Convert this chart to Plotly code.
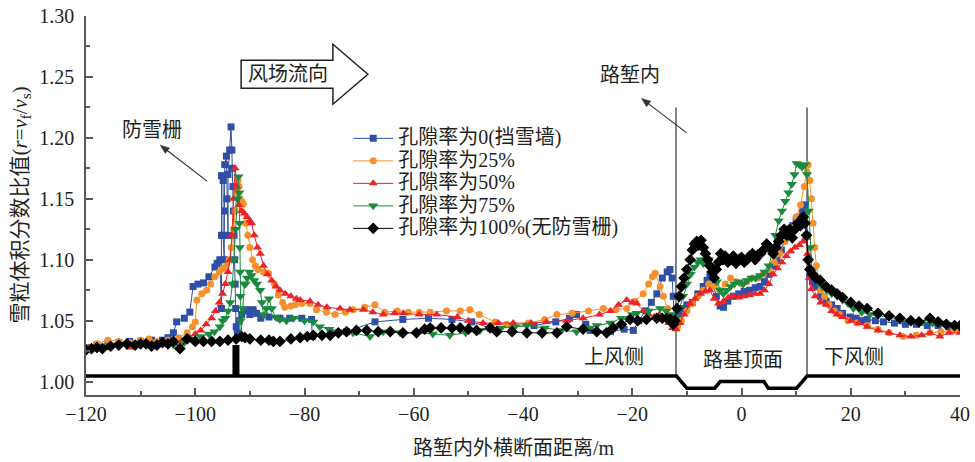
import plotly.graph_objects as go

# ---- data: snow volume fraction ratio along the cutting cross-section ----
# (distance / m, ratio r = v_f / v_s)
porosity_0 = [
    (-120, 1.028), (-118, 1.030), (-116, 1.031), (-114, 1.032), (-112, 1.033), (-110, 1.033),
    (-108, 1.034), (-106, 1.034), (-105, 1.036), (-104, 1.040), (-103.4, 1.049), (-102, 1.052),
    (-101, 1.057), (-100.4, 1.078), (-99.5, 1.080), (-98.5, 1.081), (-97.5, 1.086), (-96.4, 1.094),
    (-96.0, 1.097), (-95.5, 1.100), (-95.2, 1.060), (-95.2, 1.120), (-95.2, 1.169), (-94.9, 1.165),
    (-94.9, 1.120), (-94.7, 1.100), (-94.6, 1.140), (-94.6, 1.178), (-94.3, 1.185), (-94.2, 1.150),
    (-94.0, 1.120), (-94.0, 1.170), (-93.7, 1.190), (-93.45, 1.209), (-93.3, 1.190),
    (-93.2, 1.175), (-93.1, 1.160), (-93.0, 1.140), (-92.9, 1.120), (-92.8, 1.100), (-92.7, 1.080),
    (-92.6, 1.060), (-92.5, 1.045), (-92.3, 1.040), (-92.0, 1.050), (-91.5, 1.055), (-91.0, 1.058),
    (-90.6, 1.059), (-90.0, 1.055), (-89.4, 1.059), (-88.75, 1.056), (-88.0, 1.052), (-86.5, 1.053),
    (-84.5, 1.052), (-82.7, 1.052), (-80.5, 1.052), (-78.7, 1.051), (-78.6, 1.037), (-75.3, 1.040),
    (-72.3, 1.041), (-67.1, 1.049), (-62, 1.051), (-57.3, 1.052), (-53, 1.051), (-49.4, 1.049),
    (-46.0, 1.044), (-42, 1.045), (-38, 1.046), (-34, 1.049), (-31.5, 1.052), (-30.2, 1.055),
    (-28.5, 1.047), (-27.7, 1.042), (-24, 1.041), (-21.5, 1.043), (-19.8, 1.042), (-18.8, 1.050),
    (-17.5, 1.058), (-16.5, 1.065), (-15.5, 1.072), (-14.5, 1.085), (-13.6, 1.090), (-13.1, 1.092),
    (-12.7, 1.085), (-12.5, 1.070), (-12.3, 1.053), (-12.0, 1.050), (-11.5, 1.055), (-11, 1.060),
    (-10, 1.063), (-9, 1.065), (-8, 1.072), (-7, 1.078), (-6.3, 1.083), (-5.8, 1.086), (-5.3, 1.080),
    (-4.6, 1.070), (-3.9, 1.062), (-3.3, 1.061), (-2.5, 1.066), (-1.5, 1.070), (-0.5, 1.072),
    (0.5, 1.074), (1.5, 1.075), (2.5, 1.077), (3.4, 1.078), (4.2, 1.082), (5, 1.088), (5.8, 1.095),
    (6.5, 1.100), (7.3, 1.108), (8, 1.118), (8.7, 1.125), (9.4, 1.128), (10, 1.132), (10.7, 1.135),
    (11.2, 1.140), (11.6, 1.145), (12.0, 1.120), (12.3, 1.100), (12.5, 1.086), (13, 1.082),
    (13.5, 1.078), (14.5, 1.070), (15.5, 1.066), (16.5, 1.063), (17.5, 1.060), (18.5, 1.056),
    (19.9, 1.053), (21, 1.052), (22, 1.050), (23, 1.051), (24.5, 1.050), (26, 1.049), (28, 1.048),
    (30, 1.047), (32, 1.047), (34, 1.046), (36, 1.046), (38, 1.045), (40, 1.045),
]

porosity_25 = [
    (-120, 1.028), (-118, 1.031), (-116, 1.034), (-114, 1.033), (-112, 1.032), (-111.3, 1.029),
    (-110, 1.034), (-108.5, 1.035), (-107, 1.033), (-105, 1.034), (-103, 1.036), (-101.5, 1.040),
    (-100.5, 1.045), (-100, 1.049), (-99.7, 1.067), (-98.8, 1.072), (-97.9, 1.075), (-97.2, 1.080),
    (-96.4, 1.086), (-95.6, 1.090), (-94.9, 1.093), (-94.3, 1.095), (-93.8, 1.100), (-93.4, 1.110),
    (-93.0, 1.125), (-92.7, 1.140), (-92.4, 1.155), (-92.2, 1.165), (-92.0, 1.160), (-91.8, 1.150),
    (-91.5, 1.148), (-91.2, 1.146), (-90.8, 1.130), (-90.4, 1.120), (-90.0, 1.110), (-89.5, 1.100),
    (-89.0, 1.095), (-88.5, 1.092), (-87.5, 1.090), (-86.6, 1.089), (-85.5, 1.080), (-84.8, 1.071),
    (-84, 1.065), (-83.6, 1.061), (-82.5, 1.062), (-81.7, 1.063), (-80.5, 1.064), (-79, 1.064),
    (-77.8, 1.059), (-76, 1.057), (-74.4, 1.055), (-72.5, 1.057), (-71.1, 1.059), (-69, 1.061),
    (-67.1, 1.063), (-65.3, 1.057), (-63, 1.058), (-61, 1.057), (-59, 1.057), (-57, 1.057),
    (-54, 1.058), (-51.5, 1.058), (-49.7, 1.059), (-48, 1.055), (-45.1, 1.049), (-43, 1.047),
    (-41.8, 1.046), (-39, 1.048), (-36, 1.051), (-33.8, 1.055), (-31, 1.056), (-28, 1.058),
    (-25.3, 1.060), (-23, 1.059), (-21, 1.060), (-19.5, 1.066), (-18, 1.072), (-17, 1.080),
    (-16.3, 1.086), (-15.8, 1.089), (-14.9, 1.078), (-14.3, 1.070), (-13.5, 1.060), (-12.8, 1.050),
    (-12.2, 1.047), (-11.7, 1.045), (-11, 1.050), (-10, 1.058), (-9, 1.064), (-8, 1.070),
    (-7, 1.075), (-6, 1.080), (-5, 1.078), (-4, 1.075), (-3, 1.080), (-2, 1.085), (-1, 1.082),
    (0, 1.080), (1, 1.082), (2, 1.085), (3, 1.085), (4, 1.088), (5, 1.092), (6, 1.098), (7, 1.105),
    (8, 1.115), (9, 1.125), (10, 1.135), (10.8, 1.145), (11.5, 1.160), (12.0, 1.172), (12.2, 1.178),
    (12.5, 1.165), (12.8, 1.150), (13.1, 1.130), (13.4, 1.110), (13.7, 1.095), (14.1, 1.085),
    (14.5, 1.075), (15.2, 1.070), (16, 1.063), (17, 1.058), (18, 1.055), (19.5, 1.050),
    (21.1, 1.048), (23, 1.046), (25, 1.043), (27, 1.040), (29.6, 1.037), (32, 1.038),
    (34.5, 1.040), (36.5, 1.041), (38.8, 1.042), (40, 1.042),
]

porosity_50 = [
    (-120, 1.027), (-118, 1.028), (-116, 1.029), (-114, 1.030), (-112, 1.028), (-110, 1.030),
    (-108, 1.031), (-106, 1.030), (-104, 1.032), (-102.5, 1.033), (-101, 1.036), (-100, 1.039),
    (-99, 1.042), (-98, 1.047), (-97, 1.052), (-96.3, 1.058), (-95.6, 1.065), (-95, 1.072),
    (-94.5, 1.080), (-94, 1.090), (-93.6, 1.100), (-93.3, 1.120), (-93.0, 1.150), (-92.7, 1.175),
    (-92.4, 1.160), (-92.0, 1.145), (-91.5, 1.140), (-91, 1.138), (-90.5, 1.135), (-90, 1.132),
    (-89.7, 1.130), (-89.2, 1.120), (-88.6, 1.110), (-88.1, 1.105), (-87.5, 1.095), (-86.8, 1.088),
    (-86, 1.083), (-85.2, 1.078), (-84.5, 1.075), (-83.5, 1.072), (-82.5, 1.070), (-81.5, 1.068),
    (-80.8, 1.067), (-79, 1.066), (-77.5, 1.063), (-75.9, 1.061), (-73.5, 1.060), (-71.7, 1.059),
    (-69.2, 1.059), (-67.5, 1.057), (-65.6, 1.055), (-63.5, 1.056), (-61.9, 1.056), (-59, 1.055),
    (-55.8, 1.055), (-52, 1.053), (-50, 1.050), (-47.3, 1.048), (-44.5, 1.048), (-41.8, 1.048),
    (-38.5, 1.048), (-35.7, 1.049), (-32, 1.050), (-29, 1.052), (-26, 1.055), (-24, 1.058),
    (-22.5, 1.063), (-21.0, 1.067), (-20, 1.065), (-19.2, 1.064), (-18, 1.058), (-17, 1.055),
    (-16, 1.053), (-15, 1.055), (-14, 1.052), (-13.3, 1.048), (-12.6, 1.044), (-12, 1.043),
    (-11.3, 1.048), (-10.5, 1.055), (-9.4, 1.064), (-8.5, 1.068), (-7.5, 1.072), (-6.6, 1.074),
    (-5.8, 1.075), (-5, 1.068), (-4.2, 1.064), (-3.3, 1.066), (-2.4, 1.069), (-1.5, 1.070),
    (-0.5, 1.069), (0.5, 1.070), (1.5, 1.071), (2.5, 1.072), (3.4, 1.072), (4.2, 1.075),
    (5, 1.080), (5.8, 1.088), (6.6, 1.093), (7.4, 1.098), (8.2, 1.103), (9, 1.107), (9.8, 1.110),
    (10.6, 1.112), (11.3, 1.115), (11.8, 1.118), (12.1, 1.105), (12.4, 1.085), (12.8, 1.076),
    (13.5, 1.070), (14.5, 1.065), (15.5, 1.063), (16.5, 1.058), (17.5, 1.055), (18.5, 1.053),
    (20, 1.050), (21.5, 1.048), (23, 1.045), (25, 1.042), (27, 1.040), (29, 1.038), (31, 1.037),
    (33, 1.038), (34.5, 1.040), (36.3, 1.037), (38, 1.040), (40, 1.040),
]

porosity_75 = [
    (-120, 1.025), (-118, 1.027), (-116, 1.029), (-114, 1.030), (-112, 1.031), (-110, 1.031),
    (-108, 1.029), (-106, 1.031), (-104, 1.030), (-102, 1.032), (-100.5, 1.035), (-99, 1.037),
    (-97.5, 1.039), (-96.5, 1.041), (-95.5, 1.045), (-95, 1.050), (-94.5, 1.052), (-94, 1.058),
    (-93.6, 1.065), (-93.2, 1.080), (-92.9, 1.100), (-92.6, 1.125), (-92.3, 1.150), (-92.1, 1.168),
    (-91.95, 1.155), (-91.9, 1.130), (-91.85, 1.110), (-91.8, 1.090), (-91.75, 1.070),
    (-91.7, 1.050), (-91.6, 1.038), (-91.3, 1.060), (-91.0, 1.080), (-90.8, 1.080), (-90.5, 1.085),
    (-90.1, 1.090), (-89.7, 1.087), (-89.2, 1.083), (-88.7, 1.080), (-88.1, 1.075), (-87.8, 1.065),
    (-87.5, 1.055), (-87, 1.060), (-86.5, 1.068), (-86, 1.060), (-85.3, 1.053), (-84.5, 1.051),
    (-83.3, 1.050), (-82, 1.052), (-80, 1.050), (-78.4, 1.049), (-77.2, 1.045), (-75.5, 1.043),
    (-73.5, 1.041), (-71.1, 1.040), (-68, 1.037), (-65.6, 1.041), (-62.5, 1.040), (-59.5, 1.040),
    (-56.5, 1.039), (-53.4, 1.038), (-50.5, 1.040), (-47.9, 1.042), (-44, 1.044), (-41.5, 1.045),
    (-39.3, 1.046), (-36, 1.044), (-33, 1.042), (-30.2, 1.041), (-28, 1.044), (-26.5, 1.046),
    (-24, 1.048), (-22, 1.052), (-20, 1.055), (-19.2, 1.056), (-17, 1.058), (-14.9, 1.060),
    (-13.8, 1.058), (-13, 1.055), (-12.4, 1.050), (-12, 1.052), (-11.4, 1.060), (-10.7, 1.070),
    (-10, 1.080), (-9.3, 1.088), (-8.6, 1.094), (-8, 1.098), (-7.5, 1.100), (-7, 1.097),
    (-6.5, 1.100), (-6, 1.100), (-5.5, 1.095), (-5, 1.090), (-4.5, 1.082), (-3.9, 1.075),
    (-3.3, 1.072), (-2.7, 1.075), (-2, 1.078), (-1.3, 1.080), (-0.5, 1.082), (0.3, 1.080),
    (1, 1.083), (1.8, 1.085), (2.6, 1.085), (3.4, 1.087), (4.2, 1.090), (5, 1.095), (5.6, 1.105),
    (6.2, 1.120), (6.8, 1.132), (7.4, 1.140), (8, 1.148), (8.6, 1.155), (9.2, 1.162), (9.7, 1.170),
    (10.1, 1.179), (10.6, 1.178), (11.1, 1.176), (11.6, 1.178), (12, 1.170), (12.3, 1.140),
    (12.6, 1.110), (12.9, 1.090), (13.4, 1.085), (14, 1.082), (14.8, 1.078), (15.6, 1.075),
    (16.5, 1.072), (17.5, 1.070), (18.5, 1.067), (19.5, 1.064), (20.5, 1.060), (22, 1.057),
    (23.5, 1.055), (25, 1.054), (27, 1.053), (29, 1.051), (31, 1.049), (33, 1.049), (35, 1.048),
    (37, 1.048), (39, 1.047), (40, 1.047),
]

porosity_100 = [
    (-120, 1.026), (-119, 1.027), (-118, 1.028), (-117, 1.027), (-115.5, 1.029), (-114, 1.030),
    (-112.5, 1.031), (-111, 1.030), (-110, 1.031), (-109, 1.031), (-108, 1.029), (-107, 1.030),
    (-106, 1.032), (-105, 1.031), (-104, 1.033), (-102.8, 1.027), (-101.5, 1.035), (-100, 1.033),
    (-98.5, 1.033), (-97, 1.033), (-95.5, 1.033), (-94, 1.034), (-92.5, 1.035), (-91.5, 1.037),
    (-90.9, 1.036), (-90, 1.035), (-88, 1.034), (-86.5, 1.034), (-85.7, 1.033), (-84.5, 1.033),
    (-82.5, 1.035), (-80.8, 1.036), (-79.5, 1.037), (-78.4, 1.038), (-76.8, 1.038), (-75.3, 1.038),
    (-73.8, 1.040), (-72.3, 1.041), (-70.5, 1.042), (-68.6, 1.042), (-66.5, 1.041), (-64.3, 1.041),
    (-62, 1.040), (-59.5, 1.040), (-58, 1.043), (-57, 1.044), (-55, 1.044), (-53, 1.044),
    (-51.5, 1.044), (-50, 1.043), (-48.5, 1.042), (-46, 1.044), (-44.8, 1.041), (-42, 1.041),
    (-39.3, 1.040), (-36.5, 1.040), (-33.8, 1.040), (-32, 1.045), (-29, 1.043), (-26.5, 1.041),
    (-24.7, 1.040), (-23.5, 1.044), (-22, 1.047), (-20.4, 1.051), (-19, 1.050), (-17.4, 1.051),
    (-15.5, 1.052), (-14.5, 1.052), (-13.7, 1.052), (-13, 1.051), (-12.5, 1.047), (-12.2, 1.050),
    (-11.8, 1.060), (-11.4, 1.070), (-11, 1.078), (-10.5, 1.085), (-10, 1.092), (-9.4, 1.100),
    (-9, 1.108), (-8.6, 1.113), (-8.2, 1.115), (-7.8, 1.112), (-7.4, 1.116), (-7, 1.110),
    (-6.6, 1.105), (-6.2, 1.100), (-5.8, 1.095), (-5.4, 1.090), (-5, 1.085), (-4.6, 1.092),
    (-4.2, 1.098), (-3.8, 1.105), (-3.4, 1.100), (-3, 1.103), (-2.5, 1.098), (-2, 1.100),
    (-1.5, 1.103), (-1, 1.097), (-0.5, 1.100), (0, 1.102), (0.5, 1.098), (1, 1.100), (1.5, 1.103),
    (2, 1.105), (2.5, 1.100), (3, 1.104), (3.5, 1.105), (4, 1.108), (4.6, 1.113), (5.2, 1.110),
    (5.8, 1.105), (6.3, 1.110), (6.8, 1.115), (7.3, 1.120), (7.8, 1.125), (8.3, 1.120),
    (8.8, 1.125), (9.3, 1.118), (9.8, 1.125), (10.3, 1.130), (10.8, 1.128), (11.3, 1.135),
    (11.6, 1.130), (11.9, 1.120), (12.2, 1.100), (12.5, 1.092), (13, 1.088), (13.6, 1.085),
    (14.4, 1.083), (15.5, 1.078), (16.5, 1.075), (17.5, 1.072), (18.5, 1.069), (20, 1.065),
    (21.5, 1.062), (23, 1.060), (25, 1.056), (27, 1.054), (29, 1.052), (31, 1.050), (32.5, 1.049),
    (34.5, 1.052), (36, 1.049), (37.5, 1.047), (39, 1.046), (40, 1.046),
]

series_names = [
    "孔隙率为0(挡雪墙)",
    "孔隙率为25%",
    "孔隙率为50%",
    "孔隙率为75%",
    "孔隙率为100%(无防雪栅)",
]
series_data = [porosity_0, porosity_25, porosity_50, porosity_75, porosity_100]
series_colors = ["#2F4FA6", "#F5912C", "#EE2227", "#1A8A3C", "#000000"]
series_symbols = ["square", "circle", "triangle-up", "triangle-down", "diamond"]
series_sizes = [7, 7, 8, 9, 9]

# ground profile of the cutting (schematic) and the snow fence
profile_x = [-120, -11.9, -10.0, -4.9, -3.9, 4.1, 4.9, 10.1, 12.0, 40]
profile_y = [1.0045, 1.0045, 0.9946, 0.9946, 1.0, 1.0, 0.9946, 0.9946, 1.0045, 1.0045]
fence_x = -92.55
fence_top = 1.030
cut_edges = [-12.0, 12.0]
cut_edge_top = 1.225

x_ticks = [-120, -100, -80, -60, -40, -20, 0, 20, 40]
X_RANGE = [-120, 40]
Y_RANGE = [0.989, 1.30]

TEXT = "#231F20"
AXIS = "#5A5A5A"
FONT = "Liberation Serif, Noto Sans CJK SC, serif"

W, H = 975, 462
M = dict(l=86, r=15, t=16, b=67)
PLOT_W = W - M["l"] - M["r"]
PLOT_H = H - M["t"] - M["b"]


def dx_per_px():
    return (X_RANGE[1] - X_RANGE[0]) / PLOT_W


def dy_per_px():
    return (Y_RANGE[1] - Y_RANGE[0]) / PLOT_H


def pointer_shapes(x_tail, y_tail, x_head, y_head, head_len=9.0, head_half=3.5,
                   color="#333333"):
    """A thin arrow (line + filled head) given in data coordinates."""
    sx, sy = dx_per_px(), dy_per_px()
    # direction in screen pixels (y grows downward on screen)
    px = (x_head - x_tail) / sx
    py = -(y_head - y_tail) / sy
    n = (px ** 2 + py ** 2) ** 0.5
    ux, uy = px / n, py / n
    bx, by = -ux * head_len, -uy * head_len          # back from tip
    nx, ny = -uy * head_half, ux * head_half          # normal
    pts = [(0, 0), (bx + nx, by + ny), (bx - nx, by - ny)]
    coords = [(x_head + a * sx, y_head - b * sy) for a, b in pts]
    path = "M {},{} L {},{} L {},{} Z".format(*[v for c in coords for v in c])
    base_x = x_head + bx * 0.8 * sx
    base_y = y_head - by * 0.8 * sy
    return [
        dict(type="line", xref="x", yref="y", x0=x_tail, y0=y_tail, x1=base_x, y1=base_y,
             line=dict(color=color, width=1.2)),
        dict(type="path", xref="x", yref="y", path=path, fillcolor=color,
             line=dict(color=color, width=0.5)),
    ]


fig = go.Figure()

for name, data, color, sym, size in zip(series_names, series_data, series_colors,
                                         series_symbols, series_sizes):
    xs = [p[0] for p in data]
    ys = [p[1] for p in data]
    fig.add_trace(go.Scatter(
        x=xs, y=ys, mode="lines+markers",
        name='<span style="font-size:20px">' + name + "</span>",
        line=dict(color=color, width=1),
        marker=dict(symbol=sym, size=size, color=color, line=dict(width=0)),
    ))

# ground line
fig.add_trace(go.Scatter(
    x=profile_x, y=profile_y, mode="lines", showlegend=False,
    line=dict(color="#000000", width=3.5), hoverinfo="skip",
))
# snow fence
fig.add_trace(go.Scatter(
    x=[fence_x, fence_x], y=[profile_y[0], fence_top], mode="lines", showlegend=False,
    line=dict(color="#000000", width=7), hoverinfo="skip",
))

shapes = []
for xe in cut_edges:
    shapes.append(dict(type="line", xref="x", yref="y", x0=xe, x1=xe,
                       y0=profile_y[0], y1=cut_edge_top,
                       line=dict(color=AXIS, width=1.5), layer="below"))

# block arrow showing wind direction
arrow_path = ("M -91.6,1.2407 L -74.8,1.2407 L -74.8,1.2276 L -68.4,1.2522 "
              "L -74.8,1.2768 L -74.8,1.2637 L -91.6,1.2637 Z")
shapes.append(dict(type="path", xref="x", yref="y", path=arrow_path,
                   line=dict(color=TEXT, width=1.5), fillcolor="white"))

# pointers to the snow fence and the cutting
shapes += pointer_shapes(-97.85, 1.1645, -106.4, 1.194)
shapes += pointer_shapes(-10.03, 1.2041, -18.3, 1.2323)

ann_font = dict(family=FONT, size=20, color=TEXT)
annotations = [
    dict(x=-83.0, y=1.2522, text="风场流向", showarrow=False, font=ann_font),
    dict(x=-108.0, y=1.2063, text="防雪栅", showarrow=False, font=ann_font),
    dict(x=-20.4, y=1.2514, text="路堑内", showarrow=False, font=ann_font),
    dict(x=-23.3, y=1.0205, text="上风侧", showarrow=False, font=ann_font),
    dict(x=0.3, y=1.0178, text="路基顶面", showarrow=False, font=ann_font),
    dict(x=20.6, y=1.0205, text="下风侧", showarrow=False, font=ann_font),
    # axis titles
    dict(xref="paper", yref="paper", x=0.49, y=-0.14, xanchor="center", yanchor="middle",
         text="路堑内外横断面距离/m",
         showarrow=False, font=dict(family=FONT, size=20, color=TEXT)),
    dict(xref="paper", yref="paper", x=-0.0755, y=0.5, xanchor="center", yanchor="middle",
         textangle=-90,
         text="雪粒体积分数比值(<i>r</i>=<i>v</i><sub>f</sub>/<i>v</i><sub>s</sub>)",
         showarrow=False, font=dict(family=FONT, size=21, color=TEXT)),
]

fig.update_layout(
    width=W, height=H,
    margin=M,
    paper_bgcolor="white", plot_bgcolor="white",
    font=dict(family=FONT, color=TEXT),
    shapes=shapes, annotations=annotations,
    legend=dict(x=0.30, y=0.72, xanchor="left", yanchor="top", itemwidth=40,
                bgcolor="rgba(0,0,0,0)", font=dict(family=FONT, size=15, color=TEXT),
                tracegroupgap=0),
    xaxis=dict(
        range=X_RANGE, tickmode="array", tickvals=x_ticks, automargin=False,
        ticks="inside", ticklen=7, tickwidth=1.5, tickcolor=AXIS,
        showline=True, linecolor=AXIS, linewidth=1.5, showgrid=False, zeroline=False,
        tickfont=dict(family=FONT, size=20, color=TEXT),
        minor=dict(ticks="inside", ticklen=4, tickwidth=1.5, tickcolor=AXIS,
                   tickmode="linear", tick0=-120, dtick=10, showgrid=False),
    ),
    yaxis=dict(
        range=Y_RANGE, tickmode="linear", tick0=1.0, dtick=0.05, tickformat=".2f",
        automargin=False,
        ticks="inside", ticklen=7, tickwidth=1.5, tickcolor=AXIS,
        showline=True, linecolor=AXIS, linewidth=1.5, showgrid=False, zeroline=False,
        tickfont=dict(family=FONT, size=20, color=TEXT), ticklabelstandoff=6,
        minor=dict(ticks="inside", ticklen=4, tickwidth=1.5, tickcolor=AXIS,
                   tickmode="linear", tick0=1.0, dtick=0.025, showgrid=False),
    ),
)

fig.write_html("out.html")
